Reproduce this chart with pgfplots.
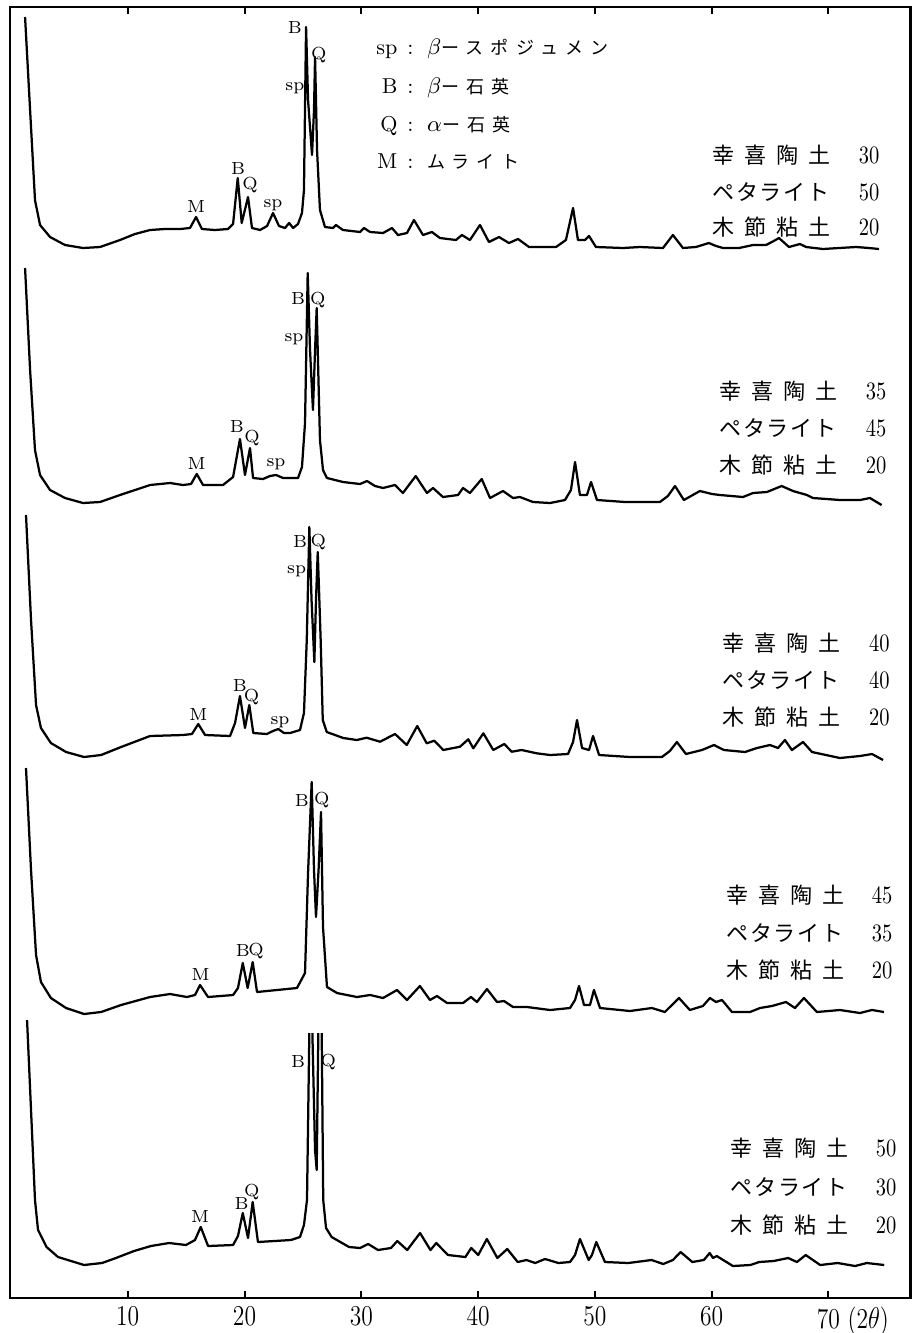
\documentclass[border=0pt]{standalone}
\usepackage{fontspec}
\usepackage{graphicx}
\usepackage{pgfplots}
\pgfplotsset{compat=1.18}
\newfontfamily\jp{Noto Sans CJK JP}
\newfontfamily\jpl[LetterSpace=40]{Noto Sans CJK JP}
\newfontfamily\jpk[LetterSpace=45]{Noto Sans CJK JP}
\newfontfamily\jpm[LetterSpace=8]{Noto Sans CJK JP}
\newcommand{\sx}[1]{\scalebox{0.82}[1]{#1}}
\tikzset{
  trace/.style={black, line width=0.9pt, line join=round},
  pk/.style={font=\fontsize{7}{8}\selectfont, inner sep=0pt},
  lg/.style={font=\fontsize{8.6}{10}\selectfont, inner sep=0pt},
  rb/.style={inner sep=0pt},
}
\newcommand{\kan}[1]{{\fontsize{8.8}{10}\jpk #1}}
\newcommand{\kat}[1]{{\fontsize{8.8}{10}\jpm #1}}
\newcommand{\num}[1]{{\fontsize{10}{11}\selectfont\sx{#1}}}
\newcommand{\lj}[1]{{\fontsize{7.2}{8}\jpl #1}}
\begin{document}
\begin{tikzpicture}
\useasboundingbox (-4pt,-14pt) rectangle (360.8pt,519.2pt);
\begin{axis}[
  scale only axis, width=360.28pt, height=516.4pt,
  xmin=-0.08, xmax=77.04, ymin=7, ymax=1298, y dir=reverse,
  axis line style={line width=1.1pt},
  xtick={10,20,30,40,50,60,70}, ytick=\empty,
  xticklabels={\sx{10},\sx{20},\sx{30},\sx{40},\sx{50},\sx{60},{\sx{70}\rlap{\hspace{3pt}\sx{(2$\theta$)}}}},
  tick align=inside, xtick pos=both, xticklabel pos=lower, major tick length=2.8pt,
  tick style={line width=0.8pt, black},
  xticklabel style={font=\fontsize{11.5}{13}\selectfont, inner sep=1pt, yshift=-2.2pt},
  clip=false,
]
% ---------- trace 1 ----------
\addplot[trace, no marks] coordinates {(1.21,17) (1.64,110) (2.06,200) (2.49,225) (3.35,237) (4.63,245) (6.17,248) (7.63,247) (9.34,240) (10.62,234) (11.91,230) (13.19,229) (14.48,229) (15.33,228) (15.85,217) (16.35,229) (17.47,230) (18.59,229) (19.02,224) (19.42,178) (19.76,223) (20.3,197) (20.64,228) (21.33,230) (21.93,226) (22.44,213) (22.95,226) (23.47,228) (23.82,223) (24.16,228) (24.58,224) (24.92,213) (25.09,190) (25.27,27) (25.44,100) (25.78,155) (25.95,110) (26.04,57) (26.21,150) (26.46,210) (26.89,227) (27.58,228) (27.83,225) (28.43,230) (29.89,232) (30.23,228) (30.75,232) (31.86,233) (32.63,228) (33.14,235) (33.91,233) (34.51,220) (35.28,235) (36.05,232) (36.73,238) (38.1,240) (38.62,235) (39.3,240) (40.16,225) (40.93,242) (41.79,237) (42.64,243) (43.42,239) (44.36,247) (46.67,247) (47.52,240) (48.13,208) (48.55,240) (49.15,240) (49.5,236) (50.09,247) (52.4,248) (53.86,247) (55.83,248) (56.68,235) (57.54,248) (58.65,247) (59.76,243) (60.37,246) (60.97,248) (62.34,248) (63.54,245) (64.65,245) (65.16,242) (65.76,238) (66.62,247) (67.56,244) (68.08,247) (69.53,249) (70.9,248) (72.36,247) (73.47,248) (74.33,249)};
% ---------- trace 2 ----------
\addplot[trace, no marks] coordinates {(1.21,268) (1.64,370) (2.06,450) (2.49,475) (3.35,490) (4.63,498) (6.17,503) (7.63,502) (9.34,495) (11.91,485) (13.62,483) (14.73,485) (15.42,484) (15.91,474) (16.45,485) (18.16,485) (19.02,477) (19.61,439) (20.04,475) (20.47,448) (20.73,478) (21.58,479) (22.18,476) (22.7,475) (23.3,478) (24.58,478) (24.92,467) (25.18,423) (25.41,273) (25.61,350) (25.86,410) (26.04,350) (26.18,308) (26.29,360) (26.46,440) (26.72,470) (27.06,478) (28.43,482) (29.89,484) (30.49,481) (31.17,486) (31.86,488) (32.88,485) (33.56,493) (34.66,476) (35.62,493) (36.14,488) (36.99,497) (38.28,495) (38.71,488) (39.3,493) (40.31,479) (41.02,498) (42.13,491) (42.99,498) (43.58,497) (44.7,502) (46.16,503) (47.44,500) (47.95,490) (48.3,462) (48.72,495) (49.32,495) (49.67,482) (50.18,500) (52.58,502) (55.57,502) (56.25,496) (56.86,486) (57.62,500) (58.99,491) (60.03,494) (60.71,495) (62.68,497) (63.54,493) (64.73,492) (65.99,486) (66.96,491) (68.16,495) (68.67,498) (70.98,500) (72.7,500) (73.55,498) (74.55,505)};
% ---------- trace 3 ----------
\addplot[trace, no marks] coordinates {(1.29,515) (1.72,620) (2.15,705) (2.57,728) (3.42,743) (4.72,752) (6.26,757) (7.72,755) (9.43,747) (11.91,736) (14.73,735) (15.5,734) (16.04,724) (16.62,735) (18.76,736) (19.19,723) (19.61,696) (20.04,728) (20.41,705) (20.75,733) (21.9,734) (22.44,731) (22.89,729) (23.38,733) (23.9,733) (24.75,730) (25.09,713) (25.33,640) (25.55,527) (25.74,600) (25.98,662) (26.12,600) (26.27,552) (26.38,590) (26.52,640) (26.7,720) (27.04,732) (28.46,738) (29.61,740) (30.46,737.7) (31.6,741.7) (32.89,734) (33.89,745) (34.79,726) (35.6,743.3) (36.25,740.7) (37.02,750) (38.45,746.7) (39.16,739.3) (39.59,748.3) (40.45,733.3) (41.3,750) (42.24,744) (42.88,751.7) (43.73,750) (45.02,753.3) (46.16,755) (47.7,754) (48.13,742) (48.47,720) (48.9,748) (49.5,750) (49.84,736) (50.36,755) (53,757) (55.74,757) (56.42,751) (57.02,742) (57.8,754) (59.17,750) (60.2,745) (61.05,750) (62.85,752) (63.88,748) (64.99,745) (65.68,748) (66.27,740) (66.87,750) (67.82,742) (68.59,752) (70.98,758) (72.7,756) (73.73,754) (74.67,760)};
% ---------- trace 4 ----------
\addplot[trace, no marks] coordinates {(1.29,768) (1.72,870) (2.15,955) (2.57,982) (3.42,998) (4.72,1008) (6.26,1014) (7.72,1012) (9.43,1005) (11.91,997) (13.62,994) (15.07,997) (15.76,995) (16.19,985) (16.88,997) (19.02,995) (19.44,988) (19.85,963) (20.27,988) (20.7,962) (21.07,992) (22.78,990) (24.49,988) (25.18,973) (25.44,873) (25.75,782) (25.95,870) (26.12,917) (26.34,870) (26.55,812) (26.72,927) (27.06,987) (27.92,993) (29.63,997) (30.75,995) (31.86,998) (33.06,990) (33.91,1000) (35.02,986) (35.88,1000) (36.48,996) (37.34,1003) (38.71,1003) (39.39,997) (39.9,1002) (40.76,989) (41.62,1002) (42.22,1001) (42.99,1007) (44.19,1007) (46.16,1010) (47.87,1008) (48.3,1000) (48.64,986) (49.07,1005) (49.58,1005) (49.92,990) (50.44,1008) (53,1011) (54.88,1008) (55.99,1012) (57.2,998) (58.13,1010) (59.25,1006) (59.85,998) (60.37,1002) (60.88,1000) (61.74,1012) (63.28,1012) (64.14,1008) (65.16,1006) (66.36,1002) (67.13,1008) (67.9,998) (69.01,1012) (70.98,1010) (72.7,1013) (73.73,1010) (74.75,1012)};
% ---------- trace 5 (main peaks run off the top) ----------
\addplot[trace, no marks] coordinates {(1.38,1020) (1.72,1110) (2.06,1200) (2.32,1230) (3.05,1247) (4.03,1257) (6.26,1265) (7.8,1263) (8.99,1258) (10.54,1251) (11.99,1246) (13.54,1243) (14.99,1245) (15.76,1240) (16.25,1227) (16.88,1246) (19.02,1245) (19.44,1236) (19.85,1213) (20.3,1238) (20.7,1202) (21.15,1242) (23.98,1240) (24.75,1237) (25.09,1225) (25.35,1200) (25.55,1033)};
\addplot[trace, no marks] coordinates {(25.81,1033) (26.04,1150) (26.18,1170) (26.32,1033)};
\addplot[trace, no marks] coordinates {(26.61,1033) (26.74,1200) (26.98,1228) (27.46,1237) (28.95,1247) (29.89,1248) (30.59,1244) (31.43,1250) (32.54,1248) (33.08,1241) (33.93,1250) (35.03,1233) (35.92,1250) (36.42,1243) (37.42,1255) (38.91,1257) (39.41,1248) (40.01,1255) (40.75,1239) (41.65,1258) (42.5,1249) (43.39,1262) (44.14,1260) (44.89,1263) (45.73,1259) (46.88,1263) (47.87,1262) (48.3,1255) (48.72,1239) (49.47,1260) (49.75,1255) (50.12,1242) (50.86,1262) (52.86,1263) (54.85,1260) (55.85,1264) (56.68,1260) (57.34,1252) (58.34,1262) (59.33,1260) (59.83,1253) (60.11,1258) (60.43,1256) (61.82,1266) (63.31,1265) (64.07,1262) (65.31,1261) (66.55,1258) (67.3,1262) (68.05,1255) (69.29,1265) (70.79,1263) (72.28,1266) (73.28,1263) (74.77,1265)};
% ---------- peak labels ----------
\node[pk] at (15.85,207) {M};
\node[pk] at (19.45,169) {B};
\node[pk] at (20.47,185) {Q};
\node[pk] at (22.44,205) {sp};
\node[pk] at (24.32,28) {B};
\node[pk] at (24.32,88) {sp};
\node[pk] at (26.35,55) {Q};
\node[pk] at (15.9,464) {M};
\node[pk] at (19.35,427) {B};
\node[pk] at (20.64,438) {Q};
\node[pk] at (22.7,464) {sp};
\node[pk] at (24.58,299) {B};
\node[pk] at (24.24,339) {sp};
\node[pk] at (26.27,300) {Q};
\node[pk] at (16.04,715) {M};
\node[pk] at (19.61,686) {B};
\node[pk] at (20.61,697) {Q};
\node[pk] at (23.04,722) {sp};
\node[pk] at (24.75,542) {B};
\node[pk] at (24.47,571) {sp};
\node[pk] at (26.32,542) {Q};
\node[pk] at (16.25,975) {M};
\node[pk] at (19.85,951) {B};
\node[pk] at (20.99,951) {Q};
\node[pk] at (24.9,801) {B};
\node[pk] at (26.61,800) {Q};
\node[pk] at (16.19,1217) {M};
\node[pk] at (19.76,1204) {B};
\node[pk] at (20.62,1192) {Q};
\node[pk] at (24.6,1062) {B};
\node[pk] at (27.17,1062) {Q};
% ---------- legend ----------
\node[lg, anchor=base east] at (33.14,54) {sp};
\node[lg, anchor=base] at (34.2,54) {:};
\node[lg, anchor=base west] at (35.6,54) {$\beta$\lj{ースポジュメン}};
\node[lg, anchor=base east] at (33.14,93) {B};
\node[lg, anchor=base] at (34.2,93) {:};
\node[lg, anchor=base west] at (35.6,93) {$\beta$\lj{ー石英}};
\node[lg, anchor=base east] at (33.14,131) {Q};
\node[lg, anchor=base] at (34.2,131) {:};
\node[lg, anchor=base west] at (35.6,131) {$\alpha$\lj{ー石英}};
\node[lg, anchor=base east] at (33.14,168) {M};
\node[lg, anchor=base] at (34.2,168) {:};
\node[lg, anchor=base west] at (35.6,168) {\lj{ムライト}};
% ---------- composition blocks ----------
\node[rb, anchor=base west] at (60.02,163) {\kan{幸喜陶土}};
\node[rb, anchor=base east] at (74.41,163) {\num{30}};
\node[rb, anchor=base west] at (60.02,200) {\kat{ペタライト}};
\node[rb, anchor=base east] at (74.41,200) {\num{50}};
\node[rb, anchor=base west] at (60.02,235) {\kan{木節粘土}};
\node[rb, anchor=base east] at (74.41,235) {\num{20}};
\node[rb, anchor=base west] at (60.62,399) {\kan{幸喜陶土}};
\node[rb, anchor=base east] at (75.01,399) {\num{35}};
\node[rb, anchor=base west] at (60.62,436) {\kat{ペタライト}};
\node[rb, anchor=base east] at (75.01,436) {\num{45}};
\node[rb, anchor=base west] at (60.62,473) {\kan{木節粘土}};
\node[rb, anchor=base east] at (75.01,473) {\num{20}};
\node[rb, anchor=base west] at (60.88,651) {\kan{幸喜陶土}};
\node[rb, anchor=base east] at (75.27,651) {\num{40}};
\node[rb, anchor=base west] at (60.88,688) {\kat{ペタライト}};
\node[rb, anchor=base east] at (75.27,688) {\num{40}};
\node[rb, anchor=base west] at (60.88,725) {\kan{木節粘土}};
\node[rb, anchor=base east] at (75.27,725) {\num{20}};
\node[rb, anchor=base west] at (61.22,903) {\kan{幸喜陶土}};
\node[rb, anchor=base east] at (75.52,903) {\num{45}};
\node[rb, anchor=base west] at (61.22,941) {\kat{ペタライト}};
\node[rb, anchor=base east] at (75.52,941) {\num{35}};
\node[rb, anchor=base west] at (61.22,978) {\kan{木節粘土}};
\node[rb, anchor=base east] at (75.52,978) {\num{20}};
\node[rb, anchor=base west] at (61.57,1156) {\kan{幸喜陶土}};
\node[rb, anchor=base east] at (75.86,1156) {\num{50}};
\node[rb, anchor=base west] at (61.57,1195) {\kat{ペタライト}};
\node[rb, anchor=base east] at (75.86,1195) {\num{30}};
\node[rb, anchor=base west] at (61.57,1233) {\kan{木節粘土}};
\node[rb, anchor=base east] at (75.86,1233) {\num{20}};
\end{axis}
\end{tikzpicture}
\end{document}
